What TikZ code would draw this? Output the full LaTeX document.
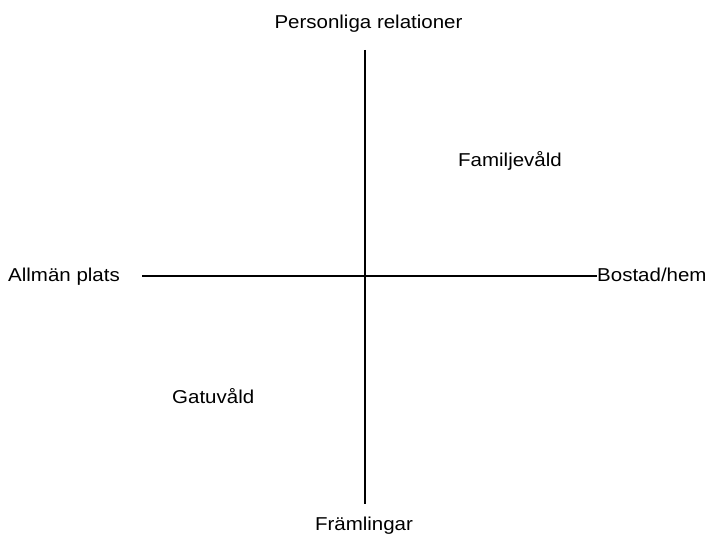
\documentclass[tikz,border=0pt]{standalone}
\usepackage{fontspec}
\setmainfont{Liberation Sans}[FakeStretch=1.1]
\begin{document}
\begin{tikzpicture}[x=1bp,y=-1bp,
  lbl/.style={inner sep=0pt,font=\fontsize{18.7}{20}\selectfont},
  axis/.style={line width=1.5bp,black}]
\useasboundingbox (0,0) rectangle (712,535);
\node[lbl,anchor=base] (pr) at (368.5,28.5) {Personliga relationer};
\node[lbl,anchor=base] (fr) at (364,530) {Främlingar};
\node[lbl,anchor=base west] (ap) at (8,281.5) {Allmän plats};
\node[lbl,anchor=base west] (bh) at (597,281.5) {Bostad/hem};
\node[lbl,anchor=base west] (fv) at (458,167) {Familjevåld};
\node[lbl,anchor=base west] (gv) at (172,403) {Gatuvåld};
\coordinate (vt) at (365,50);
\coordinate (vb) at (365,504);
\coordinate (hl) at (142,276);
\coordinate (hr) at (bh.west |- hl);
\draw[axis] (vt) -- (vb);
\draw[axis] (hl) -- (hr);
\end{tikzpicture}
\end{document}
